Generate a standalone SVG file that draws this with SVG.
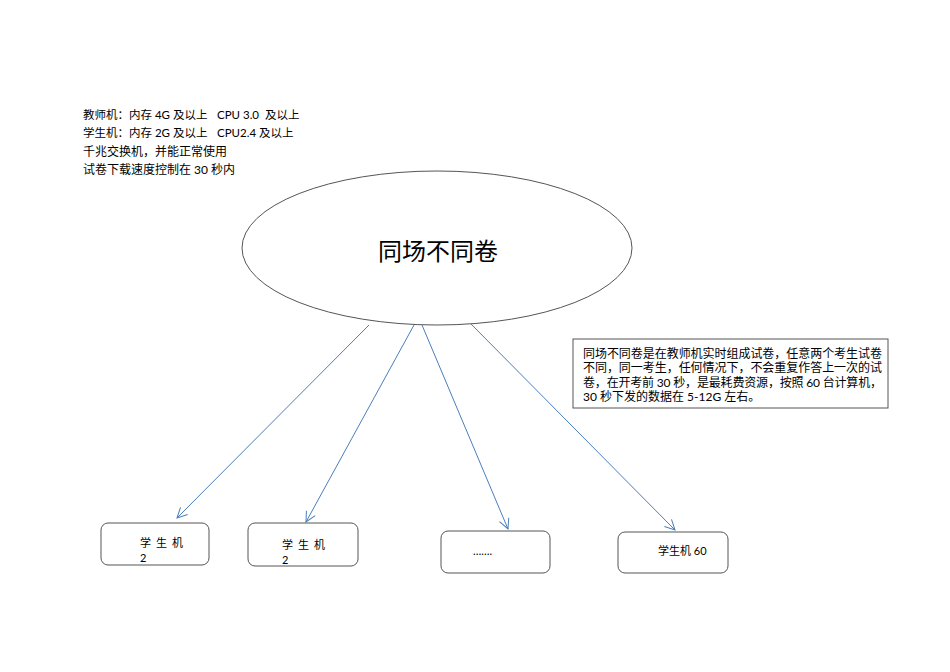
<svg xmlns="http://www.w3.org/2000/svg" width="950" height="672" viewBox="0 0 950 672">
<defs>
<style>
text{font-family:Lato,"Liberation Sans","Noto Sans CJK SC",sans-serif;fill:#000;}
.t{font-size:11px;}
.m{font-size:11.5px;}
.big{font-size:12px;}
.node{fill:#fff;stroke:#555;stroke-width:1;}
.conn{stroke:#4a7ebb;stroke-width:1;fill:none;marker-end:url(#ah);}
</style>
<marker id="ah" viewBox="0 0 12 12" refX="11" refY="6" markerWidth="12" markerHeight="12" markerUnits="userSpaceOnUse" orient="auto">
<polyline points="1,1 11,6 1,11" fill="none" stroke="#4a7ebb" stroke-width="1"/>
</marker>
</defs>
<rect width="950" height="672" fill="#fff"/>
<g id="requirements">
<text class="m" x="83" y="119">教师机：内存 4G 及以上<tspan x="217">CPU 3.0</tspan><tspan x="265">及以上</tspan></text>
<text class="m" x="83" y="137">学生机：内存 2G 及以上<tspan x="217">CPU2.4</tspan><tspan x="259">及以上</tspan></text>
<text class="big" x="83" y="156">千兆交换机，并能正常使用</text>
<text class="big" x="83" y="174">试卷下载速度控制在 30 秒内</text>
</g>
<g id="center">
<ellipse class="node" cx="437" cy="248" rx="195" ry="77"/>
<text x="438" y="260" font-size="24" text-anchor="middle">同场不同卷</text>
</g>
<g id="note">
<rect x="573" y="339" width="315" height="69" fill="#fff" stroke="#555"/>
<text class="big" x="583" y="358" textLength="299" lengthAdjust="spacing">同场不同卷是在教师机实时组成试卷，任意两个考生试卷</text>
<text class="big" x="583" y="372" textLength="299" lengthAdjust="spacing">不同，同一考生，任何情况下，不会重复作答上一次的试</text>
<text class="big" x="583" y="387" textLength="299" lengthAdjust="spacing">卷，在开考前 30 秒，是最耗费资源，按照 60 台计算机，</text>
<text class="big" x="583" y="401">30 秒下发的数据在 5-12G 左右。</text>
</g>
<g id="student1">
<rect class="node" x="101" y="523" width="108" height="42" rx="7"/>
<text class="t" x="140" y="547" letter-spacing="5">学生机</text>
<text class="t" x="140" y="562">2</text>
</g>
<g id="student2">
<rect class="node" x="248" y="523" width="110" height="43" rx="7"/>
<text class="t" x="282" y="549" letter-spacing="5">学生机</text>
<text class="t" x="282" y="564">2</text>
</g>
<g id="student3">
<rect class="node" x="441" y="531" width="109" height="42" rx="7"/>
<text class="t" x="473" y="555">…….</text>
</g>
<g id="student60">
<rect class="node" x="618" y="532" width="110" height="41" rx="7"/>
<text class="t" x="658" y="555">学生机 60</text>
</g>
<g id="connectors">
<line class="conn" x1="369" y1="325" x2="177" y2="518"/>
<line class="conn" x1="414" y1="325" x2="306" y2="522"/>
<line class="conn" x1="422" y1="325" x2="508" y2="529"/>
<line class="conn" x1="471" y1="324" x2="675" y2="530"/>
</g>
</svg>
